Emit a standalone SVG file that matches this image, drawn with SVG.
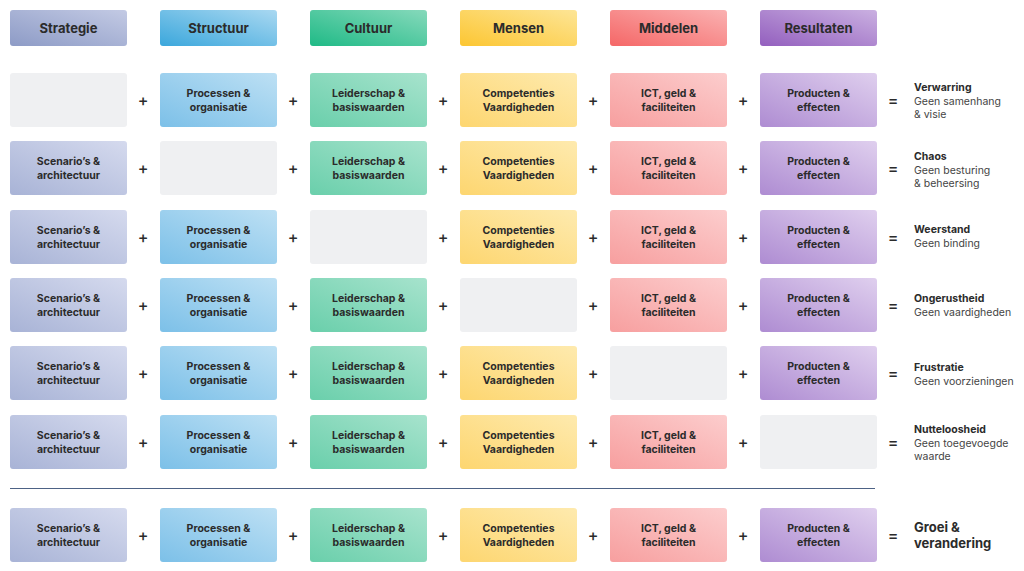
<svg xmlns="http://www.w3.org/2000/svg" width="1024" height="571" viewBox="0 0 1024 571">
<style>
text{font-family:Inter,"Noto Sans","Liberation Sans",sans-serif;fill:#2b2b2b}
.h{font-size:13px;font-weight:700;text-anchor:middle}
.c{font-size:10.5px;font-weight:700;text-anchor:middle}
.op{font-size:16px;font-weight:500;text-anchor:middle}
.rt{font-size:10.5px;font-weight:700}
.rs{font-size:10.5px;font-weight:400;fill:#444}
.big{font-size:13px;font-weight:700}
.e{fill:#eff0f2}
</style>
<defs>
<linearGradient id="g" x1="0" y1="1" x2="1" y2="0"><stop offset="0" stop-color="#fff" stop-opacity="0"/></linearGradient>
<linearGradient id="h1" x1="0" y1="1" x2="1" y2="0"><stop offset="0" stop-color="#8d9bc6"/><stop offset="1" stop-color="#c3cae4"/></linearGradient>
<linearGradient id="h2" x1="0" y1="1" x2="1" y2="0"><stop offset="0" stop-color="#3ba7dc"/><stop offset="1" stop-color="#a9d8f1"/></linearGradient>
<linearGradient id="h3" x1="0" y1="1" x2="1" y2="0"><stop offset="0" stop-color="#1fba86"/><stop offset="1" stop-color="#86d9bb"/></linearGradient>
<linearGradient id="h4" x1="0" y1="1" x2="1" y2="0"><stop offset="0" stop-color="#fcc632"/><stop offset="1" stop-color="#fde596"/></linearGradient>
<linearGradient id="h5" x1="0" y1="1" x2="1" y2="0"><stop offset="0" stop-color="#f56767"/><stop offset="1" stop-color="#fab1b1"/></linearGradient>
<linearGradient id="h6" x1="0" y1="1" x2="1" y2="0"><stop offset="0" stop-color="#935fbe"/><stop offset="1" stop-color="#cab0e1"/></linearGradient>
<linearGradient id="c1" x1="0" y1="1" x2="1" y2="0"><stop offset="0" stop-color="#a8b3d6"/><stop offset="1" stop-color="#d5daee"/></linearGradient>
<linearGradient id="c2" x1="0" y1="1" x2="1" y2="0"><stop offset="0" stop-color="#7cc0e8"/><stop offset="1" stop-color="#bde0f4"/></linearGradient>
<linearGradient id="c3" x1="0" y1="1" x2="1" y2="0"><stop offset="0" stop-color="#6acfab"/><stop offset="1" stop-color="#a7e3cd"/></linearGradient>
<linearGradient id="c4" x1="0" y1="1" x2="1" y2="0"><stop offset="0" stop-color="#fdd670"/><stop offset="1" stop-color="#feeaae"/></linearGradient>
<linearGradient id="c5" x1="0" y1="1" x2="1" y2="0"><stop offset="0" stop-color="#f79f9f"/><stop offset="1" stop-color="#fccdcd"/></linearGradient>
<linearGradient id="c6" x1="0" y1="1" x2="1" y2="0"><stop offset="0" stop-color="#ae8cd2"/><stop offset="1" stop-color="#dfcfee"/></linearGradient>
</defs>
<g id="headers">
<g id="h-strategie"><rect x="10" y="10" width="117" height="36" rx="3" fill="url(#h1)"/><text class="h" x="68.5" y="32.5">Strategie</text></g>
<g id="h-structuur"><rect x="160" y="10" width="117" height="36" rx="3" fill="url(#h2)"/><text class="h" x="218.5" y="32.5">Structuur</text></g>
<g id="h-cultuur"><rect x="310" y="10" width="117" height="36" rx="3" fill="url(#h3)"/><text class="h" x="368.5" y="32.5">Cultuur</text></g>
<g id="h-mensen"><rect x="460" y="10" width="117" height="36" rx="3" fill="url(#h4)"/><text class="h" x="518.5" y="32.5">Mensen</text></g>
<g id="h-middelen"><rect x="610" y="10" width="117" height="36" rx="3" fill="url(#h5)"/><text class="h" x="668.5" y="32.5">Middelen</text></g>
<g id="h-resultaten"><rect x="760" y="10" width="117" height="36" rx="3" fill="url(#h6)"/><text class="h" x="818.5" y="32.5">Resultaten</text></g>
</g>

<!-- Row 1 y=73 -->
<g id="row1">
<rect class="e" x="10" y="73" width="117" height="54" rx="3"/>
<rect x="160" y="73" width="117" height="54" rx="3" fill="url(#c2)"/><text class="c" x="218.5" y="97">Processen &amp;</text><text class="c" x="218.5" y="110.5">organisatie</text>
<rect x="310" y="73" width="117" height="54" rx="3" fill="url(#c3)"/><text class="c" x="368.5" y="97">Leiderschap &amp;</text><text class="c" x="368.5" y="110.5">basiswaarden</text>
<rect x="460" y="73" width="117" height="54" rx="3" fill="url(#c4)"/><text class="c" x="518.5" y="97">Competenties</text><text class="c" x="518.5" y="110.5">Vaardigheden</text>
<rect x="610" y="73" width="117" height="54" rx="3" fill="url(#c5)"/><text class="c" x="668.5" y="97">ICT, geld &amp;</text><text class="c" x="668.5" y="110.5">faciliteiten</text>
<rect x="760" y="73" width="117" height="54" rx="3" fill="url(#c6)"/><text class="c" x="818.5" y="97">Producten &amp;</text><text class="c" x="818.5" y="110.5">effecten</text>
<text class="rt" x="914" y="91">Verwarring</text><text class="rs" x="914" y="105">Geen samenhang</text><text class="rs" x="914" y="118">&amp; visie</text>
</g>
<g id="row2">
<rect x="10" y="141" width="117" height="54" rx="3" fill="url(#c1)"/><text class="c" x="68.5" y="165">Scenario’s &amp;</text><text class="c" x="68.5" y="178.5">architectuur</text>
<rect class="e" x="160" y="141" width="117" height="54" rx="3"/>
<rect x="310" y="141" width="117" height="54" rx="3" fill="url(#c3)"/><text class="c" x="368.5" y="165">Leiderschap &amp;</text><text class="c" x="368.5" y="178.5">basiswaarden</text>
<rect x="460" y="141" width="117" height="54" rx="3" fill="url(#c4)"/><text class="c" x="518.5" y="165">Competenties</text><text class="c" x="518.5" y="178.5">Vaardigheden</text>
<rect x="610" y="141" width="117" height="54" rx="3" fill="url(#c5)"/><text class="c" x="668.5" y="165">ICT, geld &amp;</text><text class="c" x="668.5" y="178.5">faciliteiten</text>
<rect x="760" y="141" width="117" height="54" rx="3" fill="url(#c6)"/><text class="c" x="818.5" y="165">Producten &amp;</text><text class="c" x="818.5" y="178.5">effecten</text>
<text class="rt" x="914" y="160">Chaos</text><text class="rs" x="914" y="174">Geen besturing</text><text class="rs" x="914" y="187">&amp; beheersing</text>
</g>
<g id="row3">
<rect x="10" y="210" width="117" height="54" rx="3" fill="url(#c1)"/><text class="c" x="68.5" y="234">Scenario’s &amp;</text><text class="c" x="68.5" y="247.5">architectuur</text>
<rect x="160" y="210" width="117" height="54" rx="3" fill="url(#c2)"/><text class="c" x="218.5" y="234">Processen &amp;</text><text class="c" x="218.5" y="247.5">organisatie</text>
<rect class="e" x="310" y="210" width="117" height="54" rx="3"/>
<rect x="460" y="210" width="117" height="54" rx="3" fill="url(#c4)"/><text class="c" x="518.5" y="234">Competenties</text><text class="c" x="518.5" y="247.5">Vaardigheden</text>
<rect x="610" y="210" width="117" height="54" rx="3" fill="url(#c5)"/><text class="c" x="668.5" y="234">ICT, geld &amp;</text><text class="c" x="668.5" y="247.5">faciliteiten</text>
<rect x="760" y="210" width="117" height="54" rx="3" fill="url(#c6)"/><text class="c" x="818.5" y="234">Producten &amp;</text><text class="c" x="818.5" y="247.5">effecten</text>
<text class="rt" x="914" y="233">Weerstand</text><text class="rs" x="914" y="247">Geen binding</text>
</g>
<g id="row4">
<rect x="10" y="278" width="117" height="54" rx="3" fill="url(#c1)"/><text class="c" x="68.5" y="302">Scenario’s &amp;</text><text class="c" x="68.5" y="315.5">architectuur</text>
<rect x="160" y="278" width="117" height="54" rx="3" fill="url(#c2)"/><text class="c" x="218.5" y="302">Processen &amp;</text><text class="c" x="218.5" y="315.5">organisatie</text>
<rect x="310" y="278" width="117" height="54" rx="3" fill="url(#c3)"/><text class="c" x="368.5" y="302">Leiderschap &amp;</text><text class="c" x="368.5" y="315.5">basiswaarden</text>
<rect class="e" x="460" y="278" width="117" height="54" rx="3"/>
<rect x="610" y="278" width="117" height="54" rx="3" fill="url(#c5)"/><text class="c" x="668.5" y="302">ICT, geld &amp;</text><text class="c" x="668.5" y="315.5">faciliteiten</text>
<rect x="760" y="278" width="117" height="54" rx="3" fill="url(#c6)"/><text class="c" x="818.5" y="302">Producten &amp;</text><text class="c" x="818.5" y="315.5">effecten</text>
<text class="rt" x="914" y="302">Ongerustheid</text><text class="rs" x="914" y="316">Geen vaardigheden</text>
</g>
<g id="row5">
<rect x="10" y="346" width="117" height="54" rx="3" fill="url(#c1)"/><text class="c" x="68.5" y="370">Scenario’s &amp;</text><text class="c" x="68.5" y="383.5">architectuur</text>
<rect x="160" y="346" width="117" height="54" rx="3" fill="url(#c2)"/><text class="c" x="218.5" y="370">Processen &amp;</text><text class="c" x="218.5" y="383.5">organisatie</text>
<rect x="310" y="346" width="117" height="54" rx="3" fill="url(#c3)"/><text class="c" x="368.5" y="370">Leiderschap &amp;</text><text class="c" x="368.5" y="383.5">basiswaarden</text>
<rect x="460" y="346" width="117" height="54" rx="3" fill="url(#c4)"/><text class="c" x="518.5" y="370">Competenties</text><text class="c" x="518.5" y="383.5">Vaardigheden</text>
<rect class="e" x="610" y="346" width="117" height="54" rx="3"/>
<rect x="760" y="346" width="117" height="54" rx="3" fill="url(#c6)"/><text class="c" x="818.5" y="370">Producten &amp;</text><text class="c" x="818.5" y="383.5">effecten</text>
<text class="rt" x="914" y="371">Frustratie</text><text class="rs" x="914" y="385">Geen voorzieningen</text>
</g>
<g id="row6">
<rect x="10" y="415" width="117" height="54" rx="3" fill="url(#c1)"/><text class="c" x="68.5" y="439">Scenario’s &amp;</text><text class="c" x="68.5" y="452.5">architectuur</text>
<rect x="160" y="415" width="117" height="54" rx="3" fill="url(#c2)"/><text class="c" x="218.5" y="439">Processen &amp;</text><text class="c" x="218.5" y="452.5">organisatie</text>
<rect x="310" y="415" width="117" height="54" rx="3" fill="url(#c3)"/><text class="c" x="368.5" y="439">Leiderschap &amp;</text><text class="c" x="368.5" y="452.5">basiswaarden</text>
<rect x="460" y="415" width="117" height="54" rx="3" fill="url(#c4)"/><text class="c" x="518.5" y="439">Competenties</text><text class="c" x="518.5" y="452.5">Vaardigheden</text>
<rect x="610" y="415" width="117" height="54" rx="3" fill="url(#c5)"/><text class="c" x="668.5" y="439">ICT, geld &amp;</text><text class="c" x="668.5" y="452.5">faciliteiten</text>
<rect class="e" x="760" y="415" width="117" height="54" rx="3"/>
<text class="rt" x="914" y="433">Nutteloosheid</text><text class="rs" x="914" y="447">Geen toegevoegde</text><text class="rs" x="914" y="460">waarde</text>
</g>
<line x1="10" y1="488.5" x2="875" y2="488.5" stroke="#4d6285" stroke-width="1.2"/>
<g id="row7">
<rect x="10" y="508" width="117" height="54" rx="3" fill="url(#c1)"/><text class="c" x="68.5" y="532">Scenario’s &amp;</text><text class="c" x="68.5" y="545.5">architectuur</text>
<rect x="160" y="508" width="117" height="54" rx="3" fill="url(#c2)"/><text class="c" x="218.5" y="532">Processen &amp;</text><text class="c" x="218.5" y="545.5">organisatie</text>
<rect x="310" y="508" width="117" height="54" rx="3" fill="url(#c3)"/><text class="c" x="368.5" y="532">Leiderschap &amp;</text><text class="c" x="368.5" y="545.5">basiswaarden</text>
<rect x="460" y="508" width="117" height="54" rx="3" fill="url(#c4)"/><text class="c" x="518.5" y="532">Competenties</text><text class="c" x="518.5" y="545.5">Vaardigheden</text>
<rect x="610" y="508" width="117" height="54" rx="3" fill="url(#c5)"/><text class="c" x="668.5" y="532">ICT, geld &amp;</text><text class="c" x="668.5" y="545.5">faciliteiten</text>
<rect x="760" y="508" width="117" height="54" rx="3" fill="url(#c6)"/><text class="c" x="818.5" y="532">Producten &amp;</text><text class="c" x="818.5" y="545.5">effecten</text>
<text class="big" x="914" y="532">Groei &amp;</text><text class="big" x="914" y="548">verandering</text>
</g>
<g id="operators">
<g id="ops1"><text class="op" x="143" y="105.5">+</text><text class="op" x="293" y="105.5">+</text><text class="op" x="443" y="105.5">+</text><text class="op" x="593" y="105.5">+</text><text class="op" x="743" y="105.5">+</text><text class="op" x="893" y="105.5">=</text></g>
<g id="ops2"><text class="op" x="143" y="173.5">+</text><text class="op" x="293" y="173.5">+</text><text class="op" x="443" y="173.5">+</text><text class="op" x="593" y="173.5">+</text><text class="op" x="743" y="173.5">+</text><text class="op" x="893" y="173.5">=</text></g>
<g id="ops3"><text class="op" x="143" y="242.5">+</text><text class="op" x="293" y="242.5">+</text><text class="op" x="443" y="242.5">+</text><text class="op" x="593" y="242.5">+</text><text class="op" x="743" y="242.5">+</text><text class="op" x="893" y="242.5">=</text></g>
<g id="ops4"><text class="op" x="143" y="310.5">+</text><text class="op" x="293" y="310.5">+</text><text class="op" x="443" y="310.5">+</text><text class="op" x="593" y="310.5">+</text><text class="op" x="743" y="310.5">+</text><text class="op" x="893" y="310.5">=</text></g>
<g id="ops5"><text class="op" x="143" y="378.5">+</text><text class="op" x="293" y="378.5">+</text><text class="op" x="443" y="378.5">+</text><text class="op" x="593" y="378.5">+</text><text class="op" x="743" y="378.5">+</text><text class="op" x="893" y="378.5">=</text></g>
<g id="ops6"><text class="op" x="143" y="447.5">+</text><text class="op" x="293" y="447.5">+</text><text class="op" x="443" y="447.5">+</text><text class="op" x="593" y="447.5">+</text><text class="op" x="743" y="447.5">+</text><text class="op" x="893" y="447.5">=</text></g>
<g id="ops7"><text class="op" x="143" y="540.5">+</text><text class="op" x="293" y="540.5">+</text><text class="op" x="443" y="540.5">+</text><text class="op" x="593" y="540.5">+</text><text class="op" x="743" y="540.5">+</text><text class="op" x="893" y="540.5">=</text></g>
</g>
</svg>
